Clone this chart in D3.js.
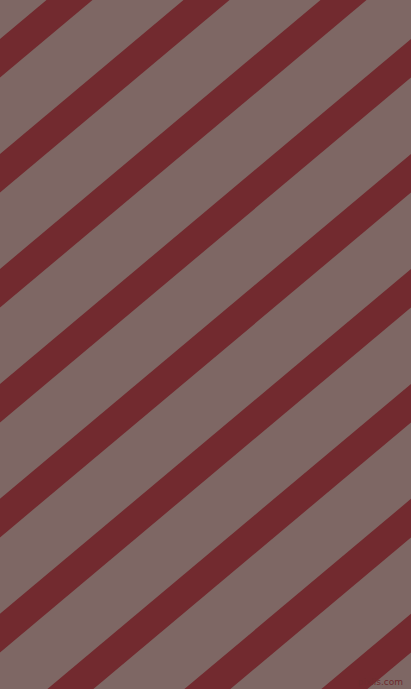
<!DOCTYPE html>
<html>
<head>
<meta charset="utf-8">
<script src="https://cdn.jsdelivr.net/npm/d3@7"></script>
<style>
  html, body { margin: 0; padding: 0; background: #7e6764; overflow: hidden; }
  svg { display: block; }
</style>
</head>
<body>
<svg id="chart"></svg>
<script>
// stripes counted from the top-left corner, left to right along the top edge
const stripeIndex = [0, 1, 2, 3, 4, 5, 6, 7, 8];
// where stripe 0 and stripe 1 cross the top edge (centre)
const firstTwoCentres = [69.5, 206.5];
const stripeAngle = 40;   // degrees, rising to the right
const stripeSpan = 46;    // horizontal width of one stripe
const watermark = ['pixlis.com'];

const colours = {
    ground: '#7e6764',
    stripe: '#722a2f',
    mark: '#6d2a2e',
}

const width = 411;
const height = 689;

const svg = d3.select('#chart')
    .attr('width', width)
    .attr('height', height);

svg.append('rect')
    .attr('width', width)
    .attr('height', height)
    .attr('fill', colours.ground);

// index -> centre of the stripe on the top edge
let x = d3.scaleLinear()
    .domain([0, 1])
    .range(firstTwoCentres);

// how far the stripe drifts left by the time it reaches the bottom
let drift = height / Math.tan(stripeAngle * Math.PI / 180);

let line = d3.line();

function stripePoints(i) {
    let c = x(i);
    let h = stripeSpan / 2;
    return [
        [c - h, 0],
        [c + h, 0],
        [c + h - drift, height],
        [c - h - drift, height],
    ];
}

svg.selectAll('.stripe')
    .data(stripeIndex)
    .enter()
    .append('path')
    .attr('class', 'stripe')
    .attr('d', function(d) { return line(stripePoints(d)) + 'Z' })
    .attr('fill', colours.stripe);

svg.selectAll('.mark')
    .data(watermark)
    .enter()
    .append('text')
    .attr('class', 'mark')
    .attr('x', width - 8)
    .attr('y', height - 4)
    .attr('text-anchor', 'end')
    .attr('font-family', 'DejaVu Sans, sans-serif')
    .attr('font-size', 9)
    .attr('fill', colours.mark)
    .text(function(d) { return d });
</script>
</body>
</html>
